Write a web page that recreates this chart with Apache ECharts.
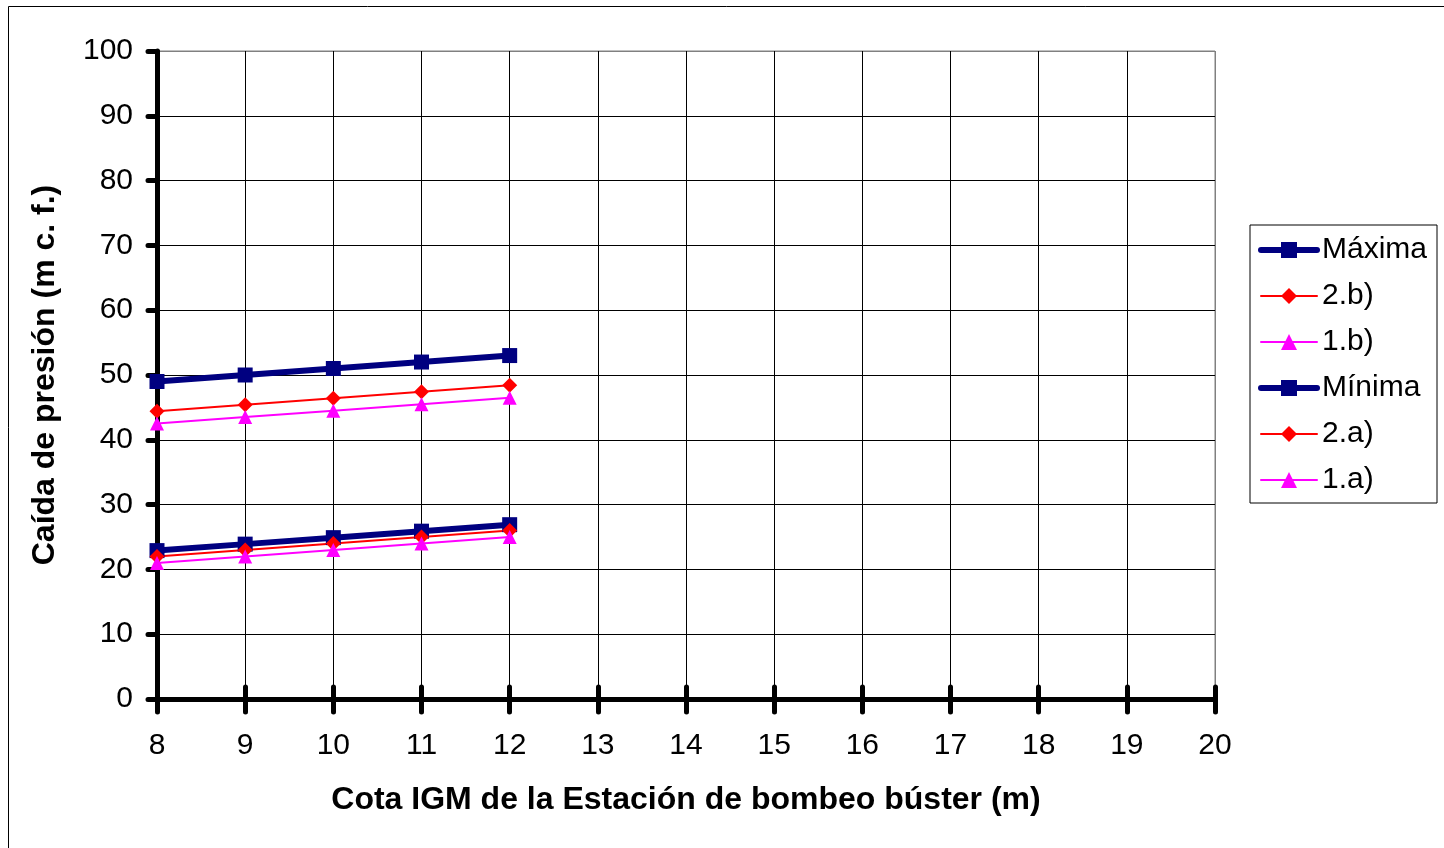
<!DOCTYPE html>
<html><head><meta charset="utf-8">
<script src="https://cdn.jsdelivr.net/npm/echarts@6/dist/echarts.min.js"></script>
<style>html,body{margin:0;padding:0;background:#fff}#c{width:1444px;height:848px}</style>
</head><body><div id="c"></div>
<script>
const xValues = [8, 9, 10, 11, 12];
const maxima = [49, 50, 51, 52, 53];
const b2 = [44.4, 45.4, 46.4, 47.4, 48.4];
const b1 = [42.5, 43.5, 44.5, 45.5, 46.5];
const minima = [22.9, 23.9, 24.9, 25.9, 26.9];
const a2 = [22, 23, 24, 25, 26];
const a1 = [21, 22, 23, 24, 25];
const seriesNames = ['Máxima', '2.b)', '1.b)', 'Mínima', '2.a)', '1.a)'];
const xTitle = 'Cota IGM de la Estación de bombeo búster (m)';
const yTitle = 'Caída de presión (m c. f.)';

const pair = arr => xValues.map((x, i) => [x, arr[i]]);
const font = 'Liberation Sans, Arial, sans-serif';
const navy = '#000080', red = '#FF0000', mag = '#FF00FF';
const styles = [
  [navy, 6, 'rect', 15], [red, 2, 'diamond', 15], [mag, 2, 'triangle', 14],
  [navy, 6, 'rect', 15], [red, 2, 'diamond', 15], [mag, 2, 'triangle', 14]
];
const seriesData = [maxima, b2, b1, minima, a2, a1];
const series = seriesNames.map((name, i) => {
  const [color, width, symbol, size] = styles[i];
  return { name, type: 'line', data: pair(seriesData[i]), xAxisIndex: 0, yAxisIndex: 0,
    lineStyle: { color, width, cap: 'round' }, itemStyle: { color }, symbol, symbolSize: size,
    showSymbol: true, animation: false, z: 5 };
});
const legendData = seriesNames.map((name, i) => ({
  name,
  lineStyle: { color: styles[i][0], width: styles[i][1], cap: 'round' },
  itemStyle: { color: styles[i][0] }
}));
const xSplitColors = Array(12).fill('#000').concat(['#808080']);
const ySplitColors = Array(10).fill('#000').concat(['#808080']);
const chart = echarts.init(document.getElementById('c'));
chart.setOption({
  backgroundColor: '#fff',
  animation: false,
  graphic: [{ type: 'rect', shape: { x: 8.5, y: 6.5, width: 1450, height: 860 }, style: { fill: 'none', stroke: '#000', lineWidth: 1 }, z: -10 }],
  grid: { left: 157, top: 51, right: 229, bottom: 149, show: true, borderColor: '#808080', borderWidth: 1 },
  legend: {
    orient: 'vertical', left: 1250, top: 225,
    padding: [10, 10, 8, 8], itemGap: 16, itemWidth: 56, itemHeight: 20,
    borderColor: '#000', borderWidth: 1,
    textStyle: { fontFamily: font, fontSize: 30, color: '#000' },
    data: legendData
  },
  xAxis: [{
    type: 'value', min: 8, max: 20, interval: 1,
    axisLine: { show: true, onZero: false, lineStyle: { color: '#000', width: 5, cap: 'round' } },
    axisTick: { show: true, inside: false, length: 13, lineStyle: { color: '#000', width: 5, cap: 'round' } },
    axisLabel: { margin: 32, fontFamily: font, fontSize: 30, color: '#000' },
    splitLine: { show: true, lineStyle: { color: xSplitColors, width: 1 } },
    name: xTitle, nameLocation: 'middle', nameGap: 85,
    nameTextStyle: { fontFamily: font, fontSize: 32, fontWeight: 'bold', color: '#000' }
  }, {
    type: 'value', min: 8, max: 20, interval: 1, position: 'bottom',
    axisLine: { show: false },
    axisTick: { show: true, inside: true, length: 12, lineStyle: { color: '#000', width: 5, cap: 'round' } },
    axisLabel: { show: false }, splitLine: { show: false }
  }],
  yAxis: [{
    type: 'value', min: 0, max: 100, interval: 10,
    axisLine: { show: true, onZero: false, lineStyle: { color: '#000', width: 5, cap: 'round' } },
    axisTick: { show: true, inside: false, length: 9, lineStyle: { color: '#000', width: 5, cap: 'round' } },
    axisLabel: { margin: 24, fontFamily: font, fontSize: 30, color: '#000' },
    splitLine: { show: true, lineStyle: { color: ySplitColors, width: 1 } },
    name: yTitle, nameLocation: 'middle', nameGap: 96, nameRotate: 90,
    nameTextStyle: { fontFamily: font, fontSize: 32, fontWeight: 'bold', color: '#000' }
  }],
  series
});
</script></body></html>
